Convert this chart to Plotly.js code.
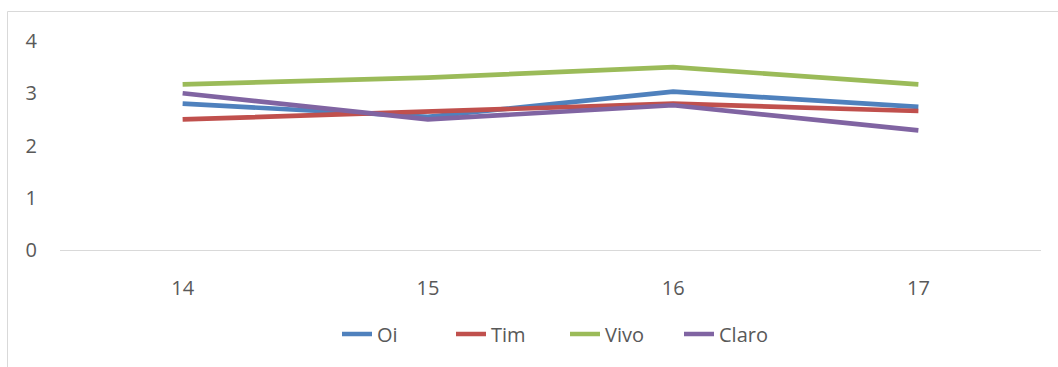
<!DOCTYPE html>
<html>
<head>
<meta charset="utf-8">
<script src="https://cdn.plot.ly/plotly-3.0.1.min.js"></script>
<style>
html,body{margin:0;padding:0;background:#fff;}
#chart{width:1058px;height:367px;}
</style>
</head>
<body>
<div id="chart"></div>
<script>
const categories = ["14", "15", "16", "17"];
const oi = [2.80, 2.55, 3.03, 2.74];
const tim = [2.50, 2.64, 2.80, 2.66];
const vivo = [3.17, 3.30, 3.50, 3.17];
const claro = [3.00, 2.50, 2.77, 2.29];
const seriesNames = ["Oi", "Tim", "Vivo", "Claro"];
const seriesValues = [oi, tim, vivo, claro];
const colors = ["#4f81bd", "#c0504d", "#9bbb59", "#8064a2"];

const traces = seriesValues.map((vals, i) => ({
  type: "scatter",
  mode: "lines",
  name: seriesNames[i],
  x: [0, 1, 2, 3],
  y: vals,
  line: {color: colors[i], width: 4.7},
  hoverinfo: "skip"
}));

const layout = {
  width: 1058,
  height: 367,
  margin: {l: 60, r: 17, t: 41, b: 117},
  paper_bgcolor: "#ffffff",
  plot_bgcolor: "#ffffff",
  font: {family: "Open Sans, sans-serif", size: 20, color: "#595959"},
  showlegend: true,
  legend: {
    orientation: "h",
    x: (337 - 60) / 981, xanchor: "left",
    y: -0.402, yanchor: "middle",
    font: {size: 20, color: "#595959"},
    itemwidth: 30,
    entrywidth: 69,
    entrywidthmode: "pixels",
    traceorder: "normal"
  },
  xaxis: {
    range: [-0.5, 3.5],
    tickmode: "array",
    tickvals: [0, 1, 2, 3],
    ticktext: categories,
    showgrid: false,
    zeroline: false,
    showline: true,
    linecolor: "#d9d9d9",
    linewidth: 1,
    ticks: "",
    ticklabelstandoff: 20,
    fixedrange: true
  },
  yaxis: {
    range: [0, 4],
    tickvals: [0, 1, 2, 3, 4],
    showgrid: false,
    zeroline: false,
    showline: false,
    ticks: "",
    ticklabelstandoff: 22,
    fixedrange: true
  },
  shapes: [{
    type: "rect",
    xref: "paper", yref: "paper",
    x0: (7.5 - 60) / 981, x1: 1.2,
    y0: -1.0, y1: (250 - 11.5) / 209,
    line: {color: "#d9d9d9", width: 1},
    fillcolor: "rgba(0,0,0,0)",
    layer: "below"
  }]
};

Plotly.newPlot("chart", traces, layout, {displayModeBar: false, staticPlot: true});
</script>
</body>
</html>
